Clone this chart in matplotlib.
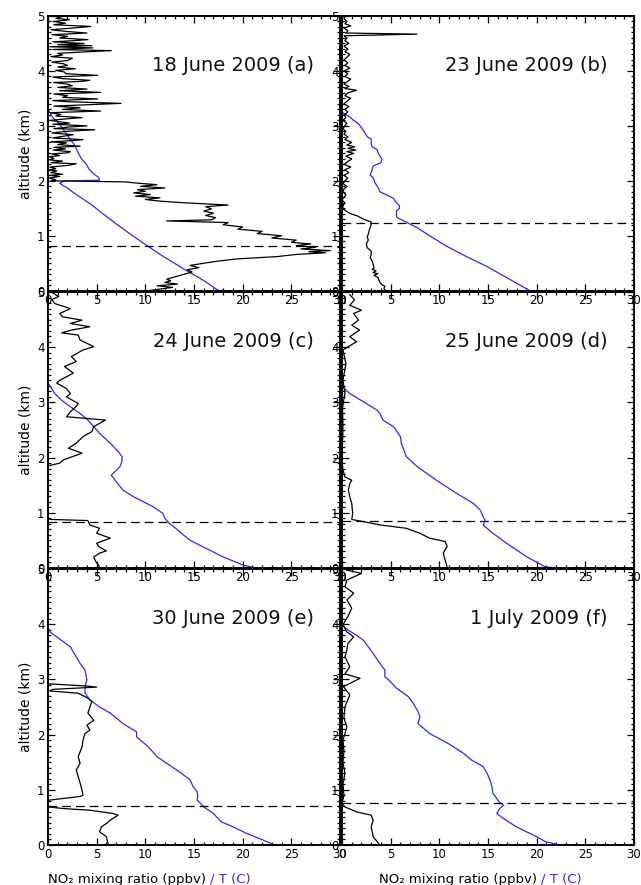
import matplotlib
matplotlib.use("Agg")
import matplotlib.pyplot as plt
import numpy as np
from matplotlib.ticker import MultipleLocator

plt.rcParams['font.family'] = ['DejaVu Sans']

# ---------------- data ----------------
titles = ["18 June 2009 (a)", "23 June 2009 (b)", "24 June 2009 (c)",
          "25 June 2009 (d)", "30 June 2009 (e)", "1 July 2009 (f)"]
boundary_layer = [0.82, 1.23, 0.83, 0.85, 0.70, 0.76]
x_ticks = [0, 5, 10, 15, 20, 25, 30]
y_ticks = [0, 1, 2, 3, 4, 5]

# panel (a)
a_no2_alt = [0.00, 0.03, 0.06, 0.09, 0.12, 0.15, 0.18, 0.21, 0.25, 0.30, 0.34, 0.38, 0.42, 0.46,
             0.50, 0.54, 0.58, 0.62, 0.66, 0.69, 0.71, 0.73, 0.76, 0.79, 0.82, 0.85, 0.88, 0.92,
             0.96, 1.00, 1.04, 1.08, 1.12, 1.16, 1.20, 1.24, 1.27, 1.29, 1.33, 1.37, 1.41, 1.45,
             1.49, 1.53, 1.56, 1.60, 1.63, 1.66, 1.69, 1.72, 1.75, 1.78, 1.81, 1.84, 1.87, 1.90,
             1.93, 1.96, 1.98, 2.00,
             2.02, 2.05, 2.08, 2.10, 2.12, 2.15, 2.18, 2.20, 2.22, 2.25, 2.28, 2.31, 2.33, 2.36,
             2.38, 2.41, 2.44, 2.46, 2.49, 2.51, 2.53, 2.56, 2.58, 2.61, 2.63, 2.66, 2.69, 2.71,
             2.73, 2.75, 2.78, 2.81, 2.84, 2.87, 2.90, 2.93, 2.95, 2.98, 3.00, 3.03, 3.05, 3.08,
             3.10, 3.13, 3.15, 3.18, 3.21, 3.24, 3.27, 3.30, 3.33, 3.36, 3.41, 3.44, 3.46, 3.49,
             3.52, 3.55, 3.58, 3.61, 3.64, 3.67, 3.70, 3.73, 3.76, 3.79, 3.81, 3.83, 3.86, 3.89,
             3.92, 3.95, 3.98, 4.01, 4.04, 4.07, 4.10, 4.13, 4.16, 4.19, 4.23, 4.26, 4.29, 4.32,
             4.34, 4.37, 4.39, 4.42, 4.44, 4.46, 4.48, 4.50, 4.53, 4.55, 4.57, 4.60, 4.63, 4.66,
             4.69, 4.72, 4.75, 4.78, 4.81, 4.84, 4.87, 4.90, 4.93, 4.96, 4.99, 5.01]
a_no2 = [10.3, 11.5, 12.8, 11.2, 13.3, 12.0, 12.6, 12.2, 13.0, 14.0, 14.8, 14.3, 15.5, 14.6,
         16.0, 17.5, 19.5, 23.5, 25.5, 28.5, 26.8, 29.0, 26.0, 27.5, 25.5, 27.0, 25.0, 25.5,
         23.0, 24.0, 21.5, 22.0, 19.5, 20.0, 18.0, 18.5, 12.2, 16.8, 17.2, 16.2, 17.0, 16.0,
         16.8, 16.2, 18.5, 14.0, 11.5, 10.0, 11.5, 9.0, 10.5, 8.8, 10.0, 9.2, 12.0, 9.5,
         11.2, 9.0, 8.0, 0.3,
         0.8, 0.1, 1.2, 0.2, 1.5, 0.3, 0.9, 0.1, 0.8, 0.2, 2.0, 2.9, 0.3, 1.5,
         0.2, 0.6, 0.1, 1.2, 0.4, 2.0, 2.3, 0.5, 1.8, 0.6, 3.3, 1.0, 1.9, 0.3,
         2.4, 3.6, 0.5, 1.5, 2.6, 0.4, 1.8, 4.8, 0.6, 2.2, 4.0, 0.5, 2.2, 1.0,
         0.2, 2.0, 3.5, 0.8, 1.3, 0.2, 5.4, 1.5, 3.3, 0.6, 7.5, 2.0, 0.5, 5.1,
         1.5, 2.0, 0.6, 5.4, 1.2, 4.0, 1.0, 2.5, 2.0, 0.6, 3.5, 4.3, 1.5, 0.5,
         5.1, 1.8, 1.7, 0.8, 2.8, 1.0, 2.0, 1.6, 0.4, 2.0, 2.5, 0.3, 1.5, 1.0,
         3.0, 6.5, 0.5, 4.6, 0.2, 4.5, 1.0, 3.7, 0.5, 2.5, 4.1, 1.2, 2.0, 0.4,
         4.0, 1.8, 0.3, 2.5, 4.4, 0.6, 1.8, 0.5, 2.2, 0.8, 1.5, 3.7]
a_t_alt = [0.00, 0.04, 0.15, 0.26, 0.38, 0.51, 0.65, 0.83, 1.00, 1.19, 1.30, 1.43, 1.55, 1.68,
           1.80, 1.88, 1.93, 1.96, 1.98, 2.00, 2.01, 2.06, 2.14, 2.22, 2.31, 2.41, 2.53, 2.66,
           2.78, 2.90, 3.03, 3.15, 3.27, 3.36, 3.50]
a_t = [17.6, 17.2, 16.3, 15.3, 14.1, 12.9, 11.6, 10.1, 8.7, 7.2, 6.4, 5.4, 4.6, 3.5,
       2.5, 1.9, 1.4, 1.2, 1.5, 1.6, 5.3, 5.2, 4.6, 4.2, 3.9, 3.4, 3.05, 2.7,
       2.2, 1.7, 1.2, 0.5, 0.1, -0.2, -0.8]

# panel (b)
b_no2_alt = [0.00, 0.04, 0.08, 0.11, 0.15, 0.19, 0.24, 0.28, 0.31, 0.33, 0.36, 0.39, 0.42, 0.48,
             0.54, 0.60, 0.66, 0.72, 0.78, 0.85, 0.92, 0.98, 1.03, 1.10, 1.16, 1.20, 1.25, 1.31,
             1.36, 1.40, 1.45, 1.49,
             1.55, 1.60, 1.65, 1.70, 1.75, 1.80, 1.85, 1.90, 1.95, 2.00, 2.05, 2.10, 2.15, 2.20,
             2.25, 2.30, 2.35, 2.40, 2.45, 2.50, 2.53, 2.56, 2.59, 2.62, 2.65, 2.70, 2.75, 2.80,
             2.85, 2.90, 2.95, 3.00, 3.05, 3.10, 3.15, 3.20, 3.25, 3.30, 3.35, 3.40, 3.45, 3.50,
             3.55, 3.60, 3.65, 3.68, 3.72, 3.76, 3.80, 3.85, 3.90, 3.95, 4.00, 4.05, 4.10, 4.15,
             4.20, 4.25, 4.30, 4.35, 4.40, 4.45, 4.50, 4.55, 4.60, 4.64, 4.67, 4.69, 4.73, 4.78,
             4.82, 4.86, 4.90, 4.95, 5.00]
b_no2 = [4.5, 4.3, 4.4, 4.1, 3.9, 3.8, 3.7, 3.3, 3.7, 3.2, 3.5, 3.1, 3.3, 3.2,
         3.1, 2.9, 3.0, 3.0, 2.6, 2.5, 2.7, 2.6, 2.7, 2.8, 2.9, 3.0, 3.0, 2.1,
         1.6, 0.9, 0.4, 0.1,
         0.1, 0.3, 0.0, 0.2, 0.4, 0.1, 0.2, 0.5, 0.1, 0.3, 0.6, 0.2, 0.7, 0.3,
         0.9, 0.2, 0.6, 1.0, 0.4, 1.2, 0.5, 1.4, 0.6, 1.3, 0.5, 1.0, 0.3, 0.6,
         0.2, 0.4, 0.1, 0.3, 0.5, 0.1, 0.4, 0.2, 0.6, 0.3, 0.7, 0.2, 0.5, 0.9,
         0.3, 0.6, 1.5, 0.3, 0.7, 0.2, 0.5, 0.9, 0.3, 0.6, 0.2, 0.8, 0.3, 0.6,
         0.2, 0.5, 0.8, 0.3, 0.6, 0.2, 0.7, 0.3, 0.5, 0.2, 7.7, 0.4, 0.6, 0.2,
         0.9, 0.3, 0.5, 0.2, 0.4]
b_t_alt = [0.00, 0.22, 0.44, 0.62, 0.81, 1.00, 1.15, 1.23, 1.30, 1.34, 1.45, 1.50, 1.55, 1.62,
           1.68, 1.75, 1.80, 1.88, 1.96, 2.05, 2.11, 2.20, 2.27, 2.33, 2.39, 2.45, 2.51, 2.57,
           2.62, 2.67, 2.76, 2.80, 2.86, 2.94, 3.04, 3.10, 3.16, 3.25, 3.35]
b_t = [19.3, 17.1, 14.9, 12.8, 10.75, 9.0, 7.7, 6.8, 6.0, 5.6, 5.6, 5.9, 5.9, 5.5,
       5.3, 4.5, 3.9, 3.7, 3.4, 3.2, 2.9, 3.1, 3.2, 4.0, 4.1, 3.9, 3.7, 3.6,
       3.1, 3.0, 3.0, 2.6, 2.4, 2.1, 1.7, 1.2, 0.8, 0.0, -0.8]

# panel (c)
c_no2_alt = [0.00, 0.05, 0.12, 0.20, 0.27, 0.31, 0.39, 0.45, 0.54, 0.63, 0.72, 0.78, 0.86, 0.88,
             0.92, 1.40, 1.85, 1.90, 1.96, 2.08, 2.17, 2.26, 2.38, 2.47, 2.56, 2.68, 2.74, 2.83,
             2.93, 2.98, 3.10, 3.16, 3.25, 3.35, 3.40, 3.53, 3.65, 3.74, 3.83, 3.95, 4.01, 4.13,
             4.22, 4.26, 4.31, 4.37, 4.43, 4.49, 4.55, 4.61, 4.70, 4.79, 4.86, 4.92, 4.98]
c_no2 = [5.3, 5.2, 4.9, 4.7, 5.3, 6.0, 5.2, 5.0, 6.4, 5.0, 5.3, 4.3, 4.1, 0.2,
         0.0, 0.0, 0.0, 1.2, 1.6, 3.5, 2.1, 2.9, 3.6, 4.5, 4.7, 5.9, 1.9, 2.3,
         2.9, 3.1, 1.9, 2.3, 1.9, 0.9, 1.2, 2.6, 1.7, 2.9, 2.4, 3.6, 4.7, 3.3,
         3.1, 1.4, 2.4, 4.3, 2.3, 3.5, 1.5, 1.2, 2.3, 0.7, 0.4, 1.1, 0.5]
c_t_alt = [0.00, 0.05, 0.20, 0.50, 0.75, 0.82, 0.90, 0.99, 1.11, 1.29, 1.41, 1.59, 1.68, 1.75,
           1.84, 1.93, 2.02, 2.11, 2.26, 2.44, 2.68, 2.80, 2.92, 3.04, 3.16, 3.35, 3.50]
c_t = [21.4, 20.1, 18.0, 14.6, 12.9, 12.4, 12.0, 11.8, 10.8, 8.8, 7.7, 6.9, 6.5, 6.9,
       7.4, 7.6, 7.6, 7.2, 6.4, 5.3, 4.1, 3.3, 2.3, 1.4, 0.7, 0.0, -0.6]

# panel (d)
d_no2_alt = [0.02, 0.14, 0.27, 0.39, 0.48, 0.54, 0.63, 0.72, 0.78, 0.84, 0.88, 0.99, 1.17, 1.29,
             1.41, 1.53, 1.59, 1.65, 1.78, 1.93, 2.20, 2.60, 2.90, 3.16, 3.40, 3.70, 3.95, 4.10,
             4.19, 4.31, 4.40, 4.49, 4.61, 4.67, 4.76, 4.86, 4.95]
d_no2 = [10.8, 10.6, 10.4, 10.8, 10.6, 9.0, 8.0, 6.6, 3.9, 2.2, 1.0, 1.1, 1.0, 0.8,
         0.65, 0.8, 1.0, 0.3, 0.1, 0.0, 0.05, 0.1, 0.05, 0.3, 0.1, 0.4, 0.1, 1.5,
         0.8, 1.8, 1.0, 1.7, 1.2, 2.0, 0.8, 1.3, 0.8]
d_t_alt = [0.00, 0.02, 0.20, 0.45, 0.63, 0.78, 0.86, 0.93, 1.05, 1.17, 1.35, 1.59, 1.84, 2.02,
           2.26, 2.38, 2.56, 2.68, 2.80, 2.86, 2.98, 3.16, 3.29, 3.40]
d_t = [22.1, 20.9, 19.0, 16.9, 15.5, 14.5, 14.7, 14.5, 14.2, 13.5, 11.8, 9.7, 7.7, 6.6,
       6.1, 6.0, 5.3, 4.2, 3.9, 3.6, 2.5, 0.8, 0.0, -0.6]

# panel (e)
e_no2_alt = [0.00, 0.15, 0.24, 0.33, 0.39, 0.45, 0.54, 0.57, 0.63, 0.66, 0.69, 0.81, 0.85, 0.88,
             0.90, 0.99, 1.12, 1.24, 1.36, 1.48, 1.60, 1.69, 1.78, 1.90, 2.02, 2.08, 2.17, 2.26,
             2.39, 2.50, 2.60, 2.66, 2.75, 2.79, 2.82, 2.86, 2.88, 2.92, 3.50, 5.00]
e_no2 = [6.2, 6.0, 5.3, 5.5, 6.0, 6.4, 7.2, 6.7, 4.3, 1.6, 0.0, 0.0, 1.9, 3.3,
         3.6, 3.5, 3.3, 3.1, 2.9, 3.3, 3.1, 3.3, 3.5, 3.6, 3.8, 4.3, 4.0, 4.7,
         4.1, 4.3, 4.5, 4.1, 3.1, 0.2, 0.5, 5.0, 4.0, 0.0, 0.0, 0.0]
e_t_alt = [0.00, 0.09, 0.21, 0.33, 0.42, 0.57, 0.69, 0.82, 0.88, 0.97, 1.06, 1.18, 1.30, 1.48,
           1.60, 1.78, 1.90, 1.96, 2.05, 2.20, 2.39, 2.50, 2.63, 2.75, 2.87, 2.99, 3.17, 3.29,
           3.41, 3.59, 3.68, 3.77, 3.86, 3.95, 4.05]
e_t = [23.3, 22.1, 20.4, 19.0, 17.8, 17.0, 16.0, 15.3, 15.4, 15.3, 14.9, 14.6, 13.7, 12.2,
       11.2, 10.3, 9.5, 9.1, 9.1, 7.7, 6.4, 5.3, 4.3, 3.8, 3.8, 4.0, 3.8, 3.3,
       2.9, 2.3, 1.6, 0.9, 0.2, 0.0, -0.5]

# panel (f)
f_no2_alt = [0.00, 0.15, 0.33, 0.45, 0.54, 0.60, 0.69, 0.75, 0.90, 1.10, 1.30, 1.50, 1.70, 1.90,
             2.02, 2.14, 2.30, 2.50, 2.72, 2.87, 3.02, 3.10, 3.23, 3.41, 3.53, 3.65, 3.77, 3.86,
             3.99, 4.14, 4.29, 4.44, 4.56, 4.68, 4.80, 4.92, 4.98]
f_no2 = [3.9, 3.2, 3.0, 3.2, 3.0, 1.5, 0.3, 0.0, 0.2, 0.1, 0.3, 0.1, 0.2, 0.1,
         0.3, 0.5, 0.2, 0.3, 0.8, 0.15, 1.85, 0.3, 0.8, 0.3, 0.5, 0.6, 1.2, 0.5,
         0.1, 0.6, 1.0, 0.5, 1.2, 0.3, 0.5, 2.0, 0.5]
f_t_alt = [0.00, 0.06, 0.15, 0.33, 0.48, 0.57, 0.66, 0.72, 0.79, 0.94, 1.06, 1.18, 1.30, 1.42,
           1.54, 1.66, 1.84, 2.02, 2.20, 2.32, 2.42, 2.57, 2.69, 2.84, 2.99, 3.05, 3.17, 3.29,
           3.47, 3.59, 3.71, 3.80, 3.89, 3.99, 4.10]
f_t = [22.4, 20.9, 20.0, 17.9, 16.6, 15.9, 16.2, 16.6, 16.1, 15.5, 15.4, 15.2, 14.9, 14.5,
       13.3, 12.5, 10.9, 9.0, 7.8, 8.0, 7.8, 7.3, 6.8, 5.6, 4.8, 4.4, 4.4, 3.9,
       3.2, 2.7, 2.2, 1.5, 0.65, 0.0, -0.6]

no2_alts = [a_no2_alt, b_no2_alt, c_no2_alt, d_no2_alt, e_no2_alt, f_no2_alt]
no2_vals = [a_no2, b_no2, c_no2, d_no2, e_no2, f_no2]
t_alts = [a_t_alt, b_t_alt, c_t_alt, d_t_alt, e_t_alt, f_t_alt]
t_vals = [a_t, b_t, c_t, d_t, e_t, f_t]

# ---------------- figure ----------------
W, H = 641, 885
fig = plt.figure(figsize=(W / 100, H / 100), dpi=100)
fig.patch.set_facecolor('white')

col_x = [48, 342]
col_w = 292
rows = [(16, 290.7), (292, 568), (569, 845)]

BLUE = '#2a2aff'
axes = []
for i in range(6):
    r, c = divmod(i, 2)
    top, bot = rows[r]
    rect = [col_x[c] / W, 1 - bot / H, col_w / W, (bot - top) / H]
    ax = fig.add_axes(rect)
    ax.patch.set_alpha(0)
    axes.append(ax)

for i, ax in enumerate(axes):
    r, c = divmod(i, 2)
    ax.plot(t_vals[i], t_alts[i], color=BLUE, lw=0.9, zorder=2)
    ax.plot(no2_vals[i], no2_alts[i], color='black', lw=0.9, zorder=3)
    ax.axhline(boundary_layer[i], color='black', lw=0.9, dashes=(7, 4), zorder=3)
    ax.set_xlim(0, 30)
    ax.set_ylim(0, 5)
    ax.set_xticks(x_ticks)
    ax.set_yticks(y_ticks)
    ax.xaxis.set_minor_locator(MultipleLocator(1))
    ax.yaxis.set_minor_locator(MultipleLocator(0.1))
    ax.tick_params(which='both', direction='in', top=True, right=True,
                   labelsize=8.5, width=0.9, pad=2.5)
    ax.tick_params(which='major', length=5)
    ax.tick_params(which='minor', length=2.5)
    for sp in ax.spines.values():
        sp.set_linewidth(1.4)
    ax.text(27.3, 4.1, titles[i], ha='right', va='center', fontsize=14,
            color='#111111')
    if c == 0:
        ax.set_ylabel('altitude (km)', fontsize=10, labelpad=3)

# x label (bottom row) with blue part
for c in range(2):
    ax = axes[4 + c]
    t1 = ax.text(0.0 if c == 0 else 3.8, -0.62, 'NO\u2082 mixing ratio (ppbv) ',
                 ha='left', va='center', fontsize=9.5, transform=ax.transData,
                 clip_on=False)
    ax.annotate('/ T (C)', xy=(1, 0.5), xycoords=t1, ha='left', va='center',
                fontsize=9.5, color=BLUE, annotation_clip=False)

fig.savefig('out.png', dpi=100, facecolor='white')
